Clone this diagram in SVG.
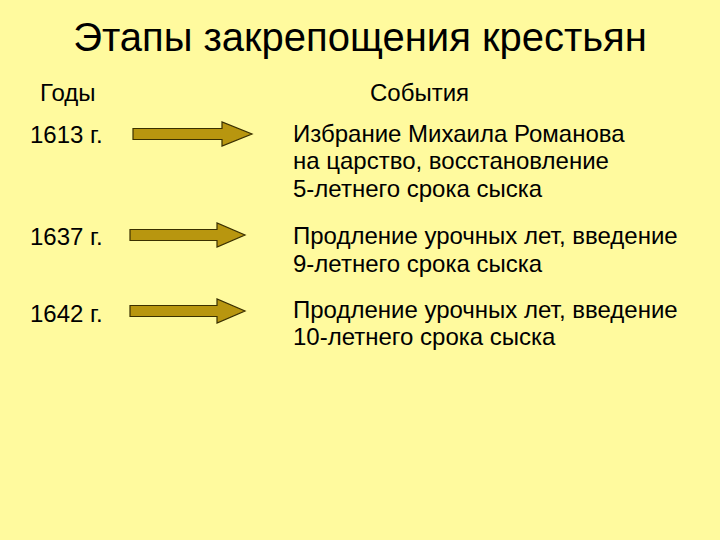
<svg xmlns="http://www.w3.org/2000/svg" width="720" height="540" viewBox="0 0 720 540">
<defs>
<style>
.t{font-family:"Liberation Sans",Arial,sans-serif;fill:#000}
.title{font-size:40px}
.h{font-size:24px}
.b{font-size:24px}
.arr{fill:#B8960F;stroke:#3A3000;stroke-width:1.2}
</style>
</defs>
<rect x="0" y="0" width="720" height="540" fill="#FFFA9E"/>
<text class="t title" x="360" y="51" text-anchor="middle">Этапы закрепощения крестьян</text>
<g id="headers">
<text class="t h" x="40" y="101">Годы</text>
<text class="t h" x="370" y="101">События</text>
</g>
<g id="row1">
<text class="t b" x="30" y="143">1613 г.</text>
<text class="t b" x="293" y="142">Избрание Михаила Романова</text>
<text class="t b" x="293" y="169">на царство, восстановление</text>
<text class="t b" x="293" y="197">5-летнего срока сыска</text>
</g>
<g id="row2">
<text class="t b" x="30" y="245">1637 г.</text>
<text class="t b" x="293" y="244">Продление урочных лет, введение</text>
<text class="t b" x="293" y="272">9-летнего срока сыска</text>
</g>
<g id="row3">
<text class="t b" x="30" y="322">1642 г.</text>
<text class="t b" x="293" y="318">Продление урочных лет, введение</text>
<text class="t b" x="293" y="345">10-летнего срока сыска</text>
</g>
<g id="connectors">
<polygon class="arr" points="133,128.5 222,128.5 222,122 252,134 222,146 222,139.5 133,139.5"/>
<polygon class="arr" points="130,229.5 217,229.5 217,223 245,235 217,247 217,240.5 130,240.5"/>
<polygon class="arr" points="130,305.5 217,305.5 217,299 245,311 217,323 217,316.5 130,316.5"/>
</g>
</svg>
